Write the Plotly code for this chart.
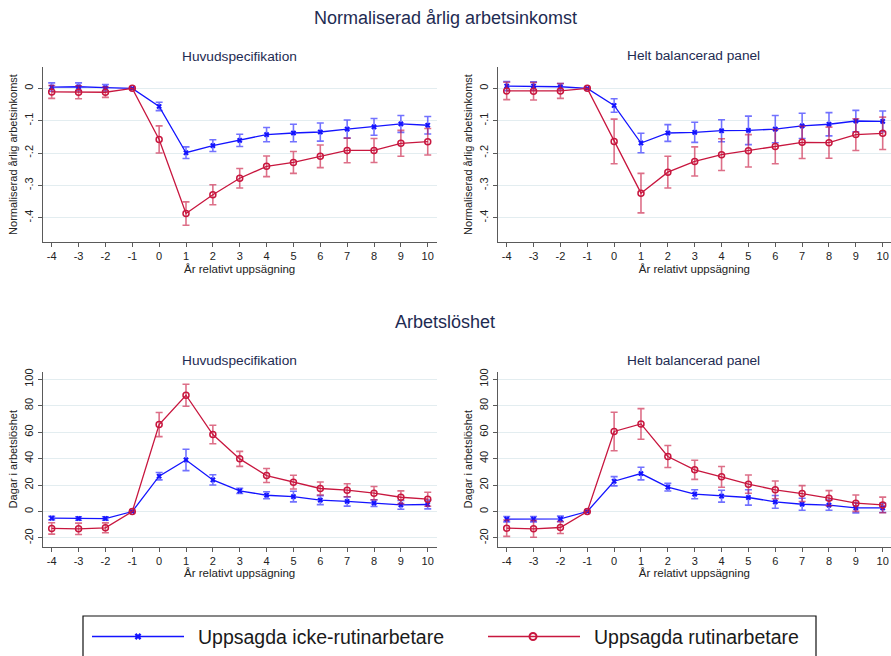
import plotly.graph_objects as go

# ---------------- data ----------------
years = [-4, -3, -2, -1, 0, 1, 2, 3, 4, 5, 6, 7, 8, 9, 10]
x_ticks = [-4, -3, -2, -1, 0, 1, 2, 3, 4, 5, 6, 7, 8, 9, 10]

inc_ticks = [0, -0.1, -0.2, -0.3, -0.4]
inc_ticktext = ["0", "-.1", "-.2", "-.3", "-.4"]
unemp_ticks = [100, 80, 60, 40, 20, 0, -20]
unemp_ticktext = ["100", "80", "60", "40", "20", "0", "-20"]

# Income, main specification
inc_main_nonroutine = [0.004, 0.005, 0.002, 0.0, -0.056, -0.199, -0.177, -0.161, -0.143, -0.138, -0.135, -0.126, -0.119, -0.110, -0.114]
inc_main_nonroutine_ci = [0.013, 0.012, 0.010, None, 0.013, 0.018, 0.018, 0.019, 0.022, 0.027, 0.028, 0.028, 0.026, 0.026, 0.027]
inc_main_routine = [-0.011, -0.012, -0.012, 0.0, -0.158, -0.387, -0.329, -0.278, -0.241, -0.229, -0.210, -0.192, -0.192, -0.170, -0.165]
inc_main_routine_ci = [0.020, 0.020, 0.016, None, 0.042, 0.036, 0.031, 0.030, 0.032, 0.034, 0.035, 0.038, 0.037, 0.040, 0.041]

# Income, fully balanced panel
inc_bal_nonroutine = [0.007, 0.007, 0.005, 0.0, -0.053, -0.169, -0.138, -0.136, -0.131, -0.130, -0.126, -0.116, -0.111, -0.101, -0.102]
inc_bal_nonroutine_ci = [0.014, 0.013, 0.010, None, 0.021, 0.030, 0.026, 0.031, 0.034, 0.044, 0.042, 0.039, 0.036, 0.033, 0.032]
inc_bal_routine = [-0.008, -0.009, -0.008, 0.0, -0.164, -0.324, -0.259, -0.226, -0.205, -0.193, -0.180, -0.167, -0.168, -0.143, -0.139]
inc_bal_routine_ci = [0.027, 0.027, 0.023, None, 0.069, 0.061, 0.049, 0.045, 0.049, 0.050, 0.053, 0.050, 0.048, 0.049, 0.050]

# Unemployment days, main specification
un_main_nonroutine = [-5.0, -5.3, -5.3, 0.0, 26.7, 39.0, 23.9, 15.6, 12.3, 11.3, 8.6, 7.6, 6.3, 5.0, 5.3]
un_main_nonroutine_ci = [1.3, 1.3, 1.3, None, 2.8, 8.1, 3.9, 2.0, 2.6, 4.0, 3.4, 3.5, 2.5, 3.3, 3.3]
un_main_routine = [-12.8, -13.1, -12.3, 0.0, 65.7, 87.9, 58.2, 39.8, 27.2, 22.2, 17.4, 16.1, 13.9, 10.8, 9.3]
un_main_routine_ci = [4.3, 4.3, 3.7, None, 9.1, 8.3, 7.0, 5.7, 5.3, 5.2, 4.9, 4.9, 5.0, 4.8, 5.3]

# Unemployment days, fully balanced panel
un_bal_nonroutine = [-5.8, -5.8, -5.6, 0.0, 22.9, 28.7, 18.4, 13.1, 11.6, 10.6, 7.3, 5.5, 4.8, 2.8, 2.8]
un_bal_nonroutine_ci = [2.0, 2.0, 2.1, None, 3.5, 4.8, 2.9, 3.4, 4.5, 5.8, 4.8, 4.5, 3.8, 3.8, 3.5]
un_bal_routine = [-12.6, -13.1, -12.1, 0.0, 60.5, 66.2, 41.6, 31.5, 26.2, 20.7, 16.4, 13.6, 10.1, 6.3, 5.0]
un_bal_routine_ci = [6.2, 6.3, 4.5, None, 14.6, 11.6, 8.3, 7.2, 7.8, 6.9, 6.7, 6.0, 5.7, 6.2, 5.9]

series_names = ["Uppsagda icke-rutinarbetare", "Uppsagda rutinarbetare"]
main_titles = ["Normaliserad årlig arbetsinkomst", "Arbetslöshet"]
panel_titles = ["Huvudspecifikation", "Helt balancerad panel"]
x_title = "År relativt uppsägning"
y_titles = ["Normaliserad årlig arbetsinkomst", "Dagar i arbetslöshet"]

# ---------------- styling ----------------
W, H = 891, 656
FONT = "Liberation Sans, Arial, sans-serif"
BLUE = "#1414ff"
BLUE_EB = "rgba(20,20,255,0.6)"
RED = "#c8173f"
RED_EB = "rgba(200,23,63,0.62)"
TITLE_COL = "#1e2b52"
AXIS_COL = "#5a5a5a"
GRID_COL = "#e3edf0"
TXT_COL = "#222222"


def px(xp):
    return xp / W


def py(yp):
    return 1 - yp / H


fig = go.Figure()

panels = [
    ("x", "y", inc_main_nonroutine, inc_main_nonroutine_ci, inc_main_routine, inc_main_routine_ci),
    ("x2", "y2", inc_bal_nonroutine, inc_bal_nonroutine_ci, inc_bal_routine, inc_bal_routine_ci),
    ("x3", "y3", un_main_nonroutine, un_main_nonroutine_ci, un_main_routine, un_main_routine_ci),
    ("x4", "y4", un_bal_nonroutine, un_bal_nonroutine_ci, un_bal_routine, un_bal_routine_ci),
]

for xa, ya, bv, bci, rv, rci in panels:
    fig.add_trace(go.Scatter(
        x=years, y=bv, xaxis=xa, yaxis=ya, mode="lines+markers",
        line=dict(color=BLUE, width=1.3),
        marker=dict(symbol="x", size=5, color=BLUE, line=dict(width=0)),
        error_y=dict(type="data", array=bci, visible=True, color=BLUE_EB, thickness=1.6, width=3.5),
        showlegend=False, name=series_names[0],
    ))
    fig.add_trace(go.Scatter(
        x=years, y=rv, xaxis=xa, yaxis=ya, mode="lines+markers",
        line=dict(color=RED, width=1.3),
        marker=dict(symbol="circle-open", size=6, color=RED, line=dict(width=1.5, color=RED)),
        error_y=dict(type="data", array=rci, visible=True, color=RED_EB, thickness=1.6, width=3.5),
        showlegend=False, name=series_names[1],
    ))

# legend markers on an overlay pixel axis
fig.add_trace(go.Scatter(
    x=[138], y=[636.5], xaxis="x5", yaxis="y5", mode="markers",
    marker=dict(symbol="x", size=6, color=BLUE, line=dict(width=0)),
    showlegend=False, hoverinfo="skip",
))
fig.add_trace(go.Scatter(
    x=[533], y=[636.5], xaxis="x5", yaxis="y5", mode="markers",
    marker=dict(symbol="circle-open", size=7, color=RED, line=dict(width=2, color=RED)),
    showlegend=False, hoverinfo="skip",
))

x_left_dom = [px(42.7), px(436.6)]
x_right_dom = [px(497.7), 1.0]
y_top_dom = [py(242), py(67)]
y_bot_dom = [py(546.7), py(371.7)]

common_x = dict(
    showline=True, linecolor=AXIS_COL, linewidth=1, ticks="outside", ticklen=4,
    tickcolor=AXIS_COL, tickwidth=1, showgrid=False, zeroline=False,
    tickvals=x_ticks, ticktext=[str(v) for v in x_ticks],
    tickfont=dict(size=11, color=TXT_COL, family=FONT),
    title=dict(text=x_title, font=dict(size=11.5, color=TXT_COL, family=FONT), standoff=3),
    automargin=False, fixedrange=True,
)
common_y = dict(
    showline=True, linecolor=AXIS_COL, linewidth=1, ticks="outside", ticklen=4,
    tickcolor=AXIS_COL, tickwidth=1, showgrid=True, gridcolor=GRID_COL, gridwidth=1,
    zeroline=False, tickangle=-90,
    tickfont=dict(size=11, color=TXT_COL, family=FONT),
    automargin=False, fixedrange=True,
)

fig.update_layout(
    width=W, height=H,
    margin=dict(l=0, r=0, t=0, b=0),
    paper_bgcolor="white", plot_bgcolor="rgba(0,0,0,0)",
    font=dict(family=FONT),
    showlegend=False,
    xaxis=dict(common_x, domain=x_left_dom, range=[-4.335, 10.33], anchor="y"),
    xaxis2=dict(common_x, domain=x_right_dom, range=[-4.335, 10.309], anchor="y2"),
    xaxis3=dict(common_x, domain=x_left_dom, range=[-4.335, 10.33], anchor="y3"),
    xaxis4=dict(common_x, domain=x_right_dom, range=[-4.335, 10.309], anchor="y4"),
    yaxis=dict(common_y, domain=y_top_dom, range=[-0.475, 0.066], anchor="x",
               tickvals=inc_ticks, ticktext=inc_ticktext,
               title=dict(text=y_titles[0], font=dict(size=11, color=TXT_COL, family=FONT), standoff=3)),
    yaxis2=dict(common_y, domain=y_top_dom, range=[-0.475, 0.066], anchor="x2",
                tickvals=inc_ticks, ticktext=inc_ticktext,
                title=dict(text=y_titles[0], font=dict(size=11, color=TXT_COL, family=FONT), standoff=3)),
    yaxis3=dict(common_y, domain=y_bot_dom, range=[-26.6, 105.7], anchor="x3",
                tickvals=unemp_ticks, ticktext=unemp_ticktext,
                title=dict(text=y_titles[1], font=dict(size=11, color=TXT_COL, family=FONT), standoff=3)),
    yaxis4=dict(common_y, domain=y_bot_dom, range=[-26.6, 105.7], anchor="x4",
                tickvals=unemp_ticks, ticktext=unemp_ticktext,
                title=dict(text=y_titles[1], font=dict(size=11, color=TXT_COL, family=FONT), standoff=3)),
    xaxis5=dict(domain=[0, 1], range=[0, W], visible=False, fixedrange=True, anchor="y5"),
    yaxis5=dict(domain=[0, 1], range=[H, 0], visible=False, fixedrange=True, anchor="x5"),
)

annotations = [
    dict(text=main_titles[0], x=px(445), y=py(18), font=dict(size=18, color=TITLE_COL, family=FONT)),
    dict(text=main_titles[1], x=px(445), y=py(322), font=dict(size=18, color=TITLE_COL, family=FONT)),
    dict(text=panel_titles[0], x=px(239.5), y=py(56.5), font=dict(size=13.7, color=TITLE_COL, family=FONT)),
    dict(text=panel_titles[1], x=px(693), y=py(55.5), font=dict(size=13.7, color=TITLE_COL, family=FONT)),
    dict(text=panel_titles[0], x=px(239.5), y=py(360.5), font=dict(size=13.7, color=TITLE_COL, family=FONT)),
    dict(text=panel_titles[1], x=px(693), y=py(360.5), font=dict(size=13.7, color=TITLE_COL, family=FONT)),
    dict(text=series_names[0], x=px(196), y=py(637), xanchor="left",
         font=dict(size=19.5, color="#1a1a1a", family=FONT)),
    dict(text=series_names[1], x=px(592), y=py(637), xanchor="left",
         font=dict(size=19.5, color="#1a1a1a", family=FONT)),
]
for a in annotations:
    a.setdefault("xanchor", "center")
    a.update(xref="paper", yref="paper", yanchor="middle", showarrow=False)
fig.update_layout(annotations=annotations)

shapes = [
    dict(type="rect", xref="paper", yref="paper", x0=px(83), x1=px(816), y0=py(670), y1=py(616),
         line=dict(color="#111111", width=1.2), fillcolor="rgba(0,0,0,0)"),
    dict(type="line", xref="paper", yref="paper", x0=px(92), x1=px(184), y0=py(636.5), y1=py(636.5),
         line=dict(color=BLUE, width=1.3)),
    dict(type="line", xref="paper", yref="paper", x0=px(488), x1=px(580), y0=py(636.5), y1=py(636.5),
         line=dict(color=RED, width=1.3)),
]
fig.update_layout(shapes=shapes)

fig.write_html("out.html")
